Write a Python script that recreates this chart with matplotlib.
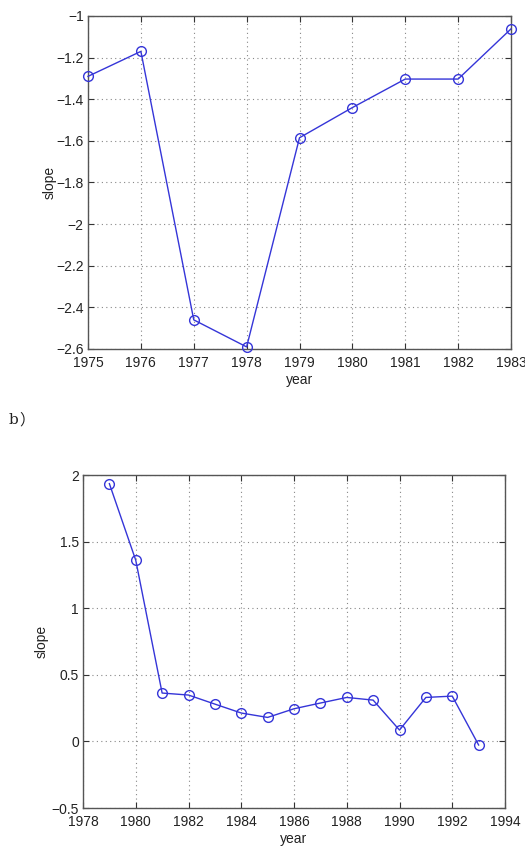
import matplotlib
matplotlib.use("Agg")
import matplotlib.pyplot as plt
from matplotlib.ticker import FuncFormatter

plt.rcParams['font.family'] = ['Liberation Sans', 'DejaVu Sans']
plt.rcParams['axes.unicode_minus'] = True

# panel a
years_a = [1975, 1976, 1977, 1978, 1979, 1980, 1981, 1982, 1983]
slope_a = [-1.29, -1.17, -2.46, -2.59, -1.585, -1.44, -1.303, -1.303, -1.062]
yticks_a = [-2.6, -2.4, -2.2, -2.0, -1.8, -1.6, -1.4, -1.2, -1.0]

# panel b
years_b = list(range(1979, 1994))
slope_b = [1.935, 1.36, 0.363, 0.348, 0.28, 0.213, 0.18, 0.245, 0.288,
           0.33, 0.31, 0.085, 0.33, 0.34, -0.027]
xticks_b = list(range(1978, 1995, 2))
yticks_b = [-0.5, 0, 0.5, 1, 1.5, 2]

line_col = '#3535d8'
W, H = 525, 847

fig = plt.figure(figsize=(W / 100, H / 100), dpi=100)


def fmt(v, pos):
    s = ('%g' % round(v, 3))
    return s.replace('-', '\u2212')


def style(ax):
    ax.grid(True, linestyle=(0, (1, 3)), color='#888888', linewidth=0.8)
    ax.tick_params(direction='in', top=True, right=True, length=4,
                   labelsize=10, color='#333333', labelcolor='#222222')
    ax.tick_params(axis='x', pad=5)
    ax.tick_params(axis='y', pad=3)
    for sp in ax.spines.values():
        sp.set_color('#555555')
        sp.set_linewidth(1.0)
    ax.yaxis.set_major_formatter(FuncFormatter(fmt))
    ax.set_xlabel('year', fontsize=10, labelpad=2, color='#222222')


ax1 = fig.add_axes([88 / W, 1 - 349 / H, (511 - 88) / W, (349 - 16) / H])
ax1.plot(years_a, slope_a, '-o', color=line_col, linewidth=1.0,
         markerfacecolor='none', markersize=7, markeredgewidth=1.0,
         clip_on=False, zorder=3)
ax1.set_xlim(1975, 1983)
ax1.set_ylim(-2.6, -1.0)
ax1.set_xticks(years_a)
ax1.set_yticks(yticks_a)
style(ax1)
ax1.set_ylabel('slope', fontsize=10, labelpad=0, color='#222222')

# panel caption "b）"
fig.text(9 / W, 1 - 420 / H, 'b', fontsize=11, va='center', ha='left',
         family='DejaVu Serif', color='#222222')
fig.text(19 / W, 1 - 420 / H, '\uff09', fontsize=11, va='center', ha='left',
         family='Noto Sans CJK TC', color='#222222')

ax2 = fig.add_axes([83 / W, 1 - 808 / H, (505 - 83) / W, (808 - 475) / H])
ax2.plot(years_b, slope_b, '-o', color=line_col, linewidth=1.0,
         markerfacecolor='none', markersize=7, markeredgewidth=1.0,
         clip_on=False, zorder=3)
ax2.set_xlim(1978, 1994)
ax2.set_ylim(-0.5, 2)
ax2.set_xticks(xticks_b)
ax2.set_yticks(yticks_b)
style(ax2)
ax2.set_ylabel('slope', fontsize=10, labelpad=2, color='#222222')

fig.savefig('out.png', dpi=100)
